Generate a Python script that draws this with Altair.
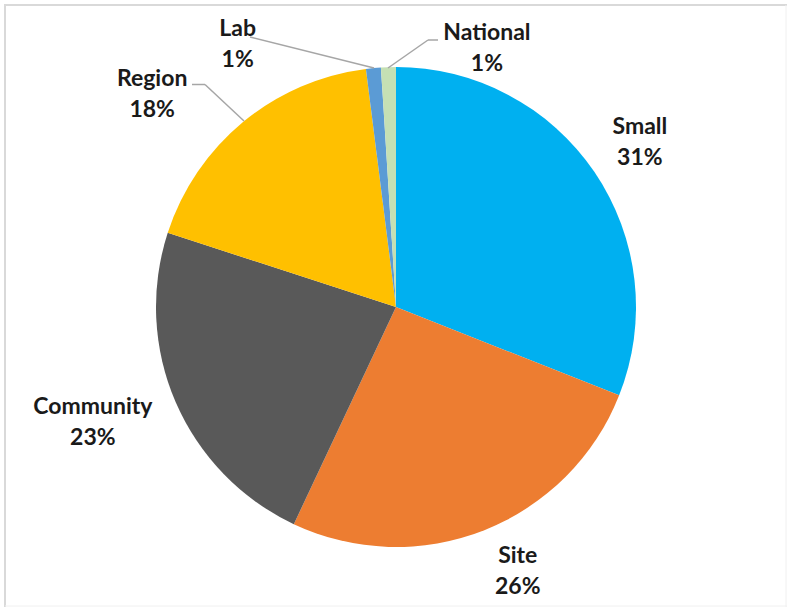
import math

import altair as alt
import pandas as pd

# Share of responses by category (clockwise from 12 o'clock)
categories = ["Small", "Site", "Community", "Region", "Lab", "National"]
shares = [31, 26, 23, 18, 1, 1]
colors = ["#00B0F0", "#ED7D31", "#595959", "#FFC000", "#5B9BD5", "#C5E0B4"]

df = pd.DataFrame({"category": categories, "share": shares, "idx": list(range(len(categories)))})

W, H = 787, 607
CX, CY, R = 396, 307, 240
LABEL_R = 290
TOTAL = sum(shares)
theta_scale = alt.Scale(domain=[0, TOTAL], range=[0, 2 * math.pi])

# Pixel nudges that move each label's first line from its slice's mid-angle anchor
nudges = {
    "Small": (4, -17),
    "Site": (15, -21),
    "Community": (-37, -15),
    "Region": (-59, -5),
    "Lab": (-131, 11),
    "National": (100, 16),
}

base = alt.Chart(df)
one = alt.Chart(pd.DataFrame({"k": [0]}))

pie = base.mark_arc(outerRadius=R).encode(
    theta=alt.Theta("share:Q", stack=True, scale=theta_scale),
    order=alt.Order("idx:Q"),
    color=alt.Color("category:N", scale=alt.Scale(domain=categories, range=colors), legend=None),
    x=alt.value(CX),
    y=alt.value(CY),
)

labels = []
for cat in categories:
    dx, dy = nudges[cat]
    labels.append(
        base.transform_stack(
            stack="share", groupby=[], as_=["s0", "s1"], sort=[alt.SortField("idx")]
        )
        .transform_calculate(
            mid="(datum.s0 + datum.s1) / 2",
            label="datum.category + '\\n' + datum.share + '%'",
        )
        .transform_filter(alt.datum.category == cat)
        .mark_text(
            radius=LABEL_R, dx=dx, dy=dy, lineBreak="\n", lineHeight=31,
            font="Lato", fontSize=23, fontWeight="bold", color="#1a1a1a",
            align="center", baseline="middle",
        )
        .encode(
            theta=alt.Theta("mid:Q", scale=theta_scale),
            text="label:N",
            x=alt.value(CX),
            y=alt.value(CY),
        )
    )


def seg(x1, y1, x2, y2, color, width):
    return one.mark_rule(color=color, strokeWidth=width).encode(
        x=alt.value(x1), y=alt.value(y1), x2=alt.value(x2), y2=alt.value(y2)
    )


LEADER = "#A6A6A6"
leaders = [
    seg(250, 37, 374, 68, LEADER, 1.5),      # Lab
    seg(438, 40, 428, 40, LEADER, 1.5),      # National stub
    seg(428, 40, 388, 68, LEADER, 1.5),      # National
    seg(192, 84.5, 205, 84.5, LEADER, 1.5),  # Region stub
    seg(205, 84.5, 244, 121, LEADER, 1.5),   # Region
]

frame = [
    seg(4, 5, 787, 5, "#D9D9D9", 2),
    seg(5, 4, 5, 607, "#D9D9D9", 2),
    seg(786, 5, 786, 607, "#F0F0F0", 1),
    seg(5, 606, 787, 606, "#F0F0F0", 1),
]

chart = alt.layer(*frame, pie, *leaders, *labels).properties(
    width=W,
    height=H,
    padding=0,
    autosize=alt.AutoSizeParams(type="none"),
    background="white",
).configure_view(stroke=None)

chart.save("out.html", embed_options={"renderer": "svg", "actions": False})
